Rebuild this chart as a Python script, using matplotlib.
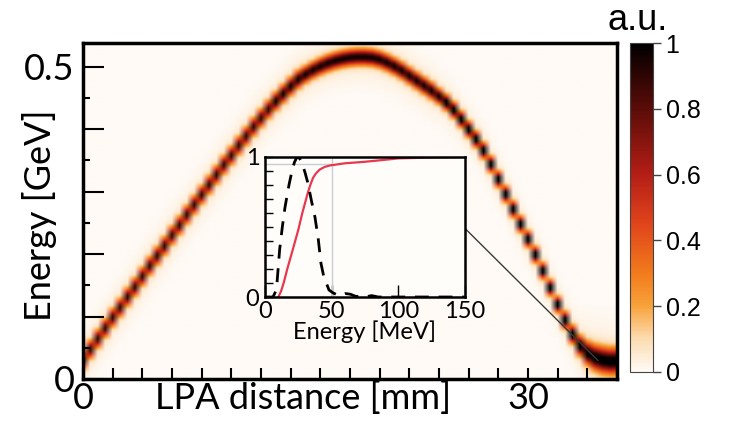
import numpy as np
import matplotlib.pyplot as plt
from matplotlib.colors import LinearSegmentedColormap

# centroid energy (GeV) of the bunch, one column every 0.5 mm along the LPA
distance = np.arange(73) * 0.5
centroid = [0.030, 0.047, 0.064, 0.081, 0.098, 0.114, 0.131, 0.147, 0.164, 0.181,
            0.197, 0.213, 0.230, 0.246, 0.263, 0.279, 0.295, 0.311, 0.327, 0.343,
            0.358, 0.374, 0.389, 0.404, 0.418, 0.432, 0.445, 0.457, 0.469, 0.480,
            0.488, 0.495, 0.501, 0.506, 0.510, 0.513, 0.515, 0.516, 0.516, 0.515,
            0.512, 0.507, 0.501, 0.494, 0.486, 0.478, 0.470, 0.462, 0.453, 0.443,
            0.431, 0.416, 0.400, 0.384, 0.366, 0.344, 0.320, 0.296, 0.272, 0.248,
            0.224, 0.199, 0.173, 0.146, 0.119, 0.094, 0.071, 0.053, 0.041, 0.034,
            0.030, 0.028, 0.028]
# peak spectral density of each column (a.u.)
level = [0.82, 0.82, 0.82, 0.82, 0.82, 0.82, 0.82, 0.82, 0.82, 0.82,
         0.82, 0.82, 0.82, 0.82, 0.82, 0.82, 0.82, 0.82, 0.82, 0.82,
         0.82, 0.82, 0.82, 0.82, 0.82, 0.82, 0.90, 0.90, 0.90, 0.90,
         0.90, 0.90, 0.90, 0.90, 0.90, 0.90, 0.90, 0.90, 0.90, 0.90,
         0.90, 0.90, 0.90, 0.90, 0.90, 0.90, 0.90, 0.90, 0.90, 1.00,
         1.00, 1.00, 1.00, 1.00, 1.00, 1.00, 1.00, 1.00, 1.00, 1.00,
         1.00, 1.00, 1.00, 1.00, 1.00, 1.00, 1.00, 1.00, 1.00, 1.00,
         1.00, 1.00, 1.00]
# rms energy spread (GeV) of each column
spread = [0.0085, 0.0085, 0.0085, 0.0085, 0.0085, 0.0085, 0.0085, 0.0085, 0.0085, 0.0085,
          0.0085, 0.0085, 0.0085, 0.0085, 0.0085, 0.0085, 0.0085, 0.0085, 0.0085, 0.0085,
          0.0085, 0.0085, 0.0085, 0.0085, 0.0085, 0.0085, 0.0085, 0.0085, 0.0085, 0.0085,
          0.0080, 0.0080, 0.0080, 0.0080, 0.0080, 0.0080, 0.0080, 0.0080, 0.0080, 0.0080,
          0.0080, 0.0080, 0.0080, 0.0080, 0.0080, 0.0080, 0.0080, 0.0080, 0.0075, 0.0075,
          0.0075, 0.0075, 0.0075, 0.0075, 0.0075, 0.0075, 0.0075, 0.0075, 0.0075, 0.0075,
          0.0075, 0.0075, 0.0075, 0.0075, 0.0075, 0.0080, 0.0085, 0.0095, 0.0110, 0.0120,
          0.0125, 0.0125, 0.0125]

# inset: final spectrum (dashed) and its cumulative fraction (red)
spec_E = [0, 6, 8, 9, 11, 13, 15, 18, 20, 22, 24, 26, 28, 30, 32, 35, 37.5, 40,
          42, 44, 46, 48, 51, 55, 60, 64, 68, 75, 80, 85, 150]
spec_val = [0, 0, 0.04, 0.10, 0.34, 0.50, 0.64, 0.80, 0.89, 0.96, 1.00, 0.99, 0.95,
            0.89, 0.82, 0.68, 0.57, 0.41, 0.24, 0.15, 0.10, 0.05, 0.03, 0.01, 0.025,
            0.02, 0.005, 0.0, 0.01, 0.0, 0.0]
cum_E = [10, 12, 14, 17, 20, 25, 28, 32, 34, 36, 38, 41, 45, 49, 60, 74, 90, 100, 120, 150]
cum_val = [0, 0.04, 0.10, 0.21, 0.31, 0.48, 0.60, 0.74, 0.80, 0.85, 0.88, 0.91, 0.93,
           0.94, 0.955, 0.965, 0.98, 0.99, 0.995, 1.0]

heat = LinearSegmentedColormap.from_list('heat', [
    (0.0, '#fffaf5'), (0.1, '#fcdcb0'), (0.2, '#f8a23a'), (0.3, '#f27a1c'),
    (0.45, '#e0441c'), (0.6, '#b41e16'), (0.8, '#5c0c08'), (1.0, '#000000')])

# build the energy-distance map from the column spectra
E_grid = np.linspace(0, 0.54, 541)
img = np.zeros((len(E_grid), len(distance)))
for k, (ec, lv, sg) in enumerate(zip(centroid, level, spread)):
    d = E_grid - ec
    img[:, k] = lv * np.exp(-d**2 / (2 * sg**2)) + 0.06 * np.exp(-d**2 / (2 * (3 * sg)**2))

fig = plt.figure(figsize=(7.29, 4.22), dpi=100)
ax = fig.add_axes([0.1139, 0.1019, 0.7325, 0.796])
im = ax.imshow(img, origin='lower', extent=[-0.25, 36.25, 0, 0.54], aspect='auto',
               cmap=heat, vmin=0, vmax=1, interpolation='bilinear')
ax.set_xlim(0, 36)
ax.set_ylim(0, 0.538)

xt = np.arange(0, 37, 2)
ax.set_xticks(xt)
ax.set_xticklabels(['0' if t == 0 else '30' if t == 30 else '' for t in xt],
                   family='Lato', fontsize=26)
ax.set_yticks([0, 0.1, 0.2, 0.3, 0.4, 0.5])
ax.set_yticklabels(['0', '', '', '', '', '0.5'], family='Lato', fontsize=26)
ax.set_yticks(np.arange(0.05, 0.5, 0.1), minor=True)
ax.tick_params(axis='x', direction='in', length=8, width=1.5, pad=2)
ax.tick_params(axis='y', which='major', direction='in', length=15, width=1.5, pad=6)
ax.tick_params(axis='y', which='minor', direction='in', length=5, width=1.5)
for s in ax.spines.values():
    s.set_linewidth(2.5)

fig.text(303 / 729, 1 - 398 / 422, 'LPA distance [mm]', family='Lato', fontsize=26,
         ha='center', va='center')
fig.text(40 / 729, 1 - 215 / 422, 'Energy [GeV]', family='Lato', fontsize=26,
         rotation=90, ha='center', va='center')

# line pointing from the inset to the low-energy end of the map
ax.plot([25.8, 34.7], [0.240, 0.030], color='#3a3a3a', lw=1, zorder=3)

# colour bar
cax = fig.add_axes([0.8642, 0.1185, 0.0316, 0.7796])
cb = fig.colorbar(im, cax=cax, ticks=[0, 0.2, 0.4, 0.6, 0.8, 1])
cb.ax.set_yticklabels(['0', '0.2', '0.4', '0.6', '0.8', '1'], family='Liberation Sans',
                      fontsize=18)
cb.ax.tick_params(length=6, width=1, color='#444444', pad=3)
cb.outline.set_linewidth(0.8)
cb.outline.set_edgecolor('#444444')
fig.text(638 / 729, 1 - 30 / 422, 'a.u.', family='Liberation Sans', fontsize=26,
         ha='center', va='baseline')

# inset spectrum
axin = fig.add_axes([0.3635, 0.2962, 0.2743, 0.3318])
axin.set_facecolor('#fffdfa')
axin.plot([50, 50], [0, 1], color='#c8cdd2', lw=1)
axin.plot([0, 50], [0.95, 0.95], color='#c8cdd2', lw=1)
axin.plot(cum_E, cum_val, color='#e8384f', lw=1.6)
axin.plot(spec_E, spec_val, color='black', lw=2, dashes=(5, 3.5))
axin.set_xlim(0, 150)
axin.set_ylim(0, 1)
axin.set_xticks([0, 50, 100, 150])
axin.set_xticklabels(['0', '50', '100', '150'], family='Lato', fontsize=17)
axin.set_yticks([0, 1])
axin.set_yticklabels(['0', '1'], family='Lato', fontsize=17)
axin.set_yticks(np.arange(0.1, 1.0, 0.1), minor=True)
axin.tick_params(axis='x', direction='in', length=9, width=1, pad=3)
axin.tick_params(axis='y', which='major', direction='in', length=6, width=1, pad=4)
axin.tick_params(axis='y', which='minor', direction='in', length=6, width=1)
axin.set_xlabel('Energy [MeV]', family='Lato', fontsize=17, labelpad=-1)
for s in axin.spines.values():
    s.set_linewidth(1.8)

fig.savefig('out.png', dpi=100)
